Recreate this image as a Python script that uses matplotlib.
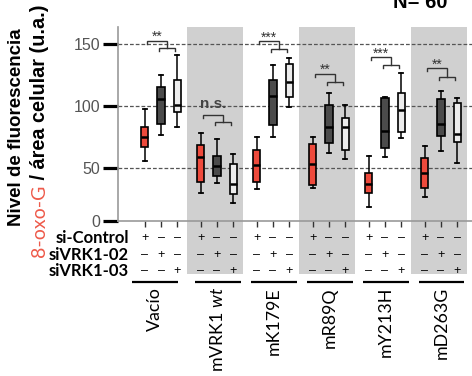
import numpy as np
import matplotlib
matplotlib.use("Agg")
import matplotlib.pyplot as plt
from matplotlib.transforms import blended_transform_factory
from matplotlib.patches import Rectangle

plt.rcParams["mathtext.fontset"] = "custom"
plt.rcParams["mathtext.it"] = "Lato:italic"
plt.rcParams["mathtext.rm"] = "Lato"

# ---- data -------------------------------------------------------------
groups = ["Vacío", "mVRK1 $\\mathit{wt}$", "mK179E", "mR89Q", "mY213H", "mD263G"]
conditions = ["si-Control", "siVRK1-02", "siVRK1-03"]

# five-number summaries per group: (whisker low, Q1, median, Q3, whisker high)
si_control = [
    (55.6, 67.1, 75.2, 82.7, 97.2),
    (26.7, 36.5, 59.1, 68.2, 78.4),
    (29.9, 37.1, 52.4, 64.5, 74.7),
    (30.8, 34.0, 53.0, 69.3, 75.2),
    (13.5, 26.1, 35.2, 45.5, 60.0),
    (22.3, 30.8, 45.0, 58.0, 67.9),
]
si_vrk1_02 = [
    (76.5, 85.4, 105.7, 114.9, 124.8),
    (35.5, 42.4, 51.3, 59.6, 73.1),
    (74.7, 84.6, 108.1, 120.7, 132.8),
    (61.8, 70.3, 83.2, 100.4, 110.5),
    (59.1, 65.8, 80.0, 106.0, 107.3),
    (63.7, 75.7, 85.1, 105.7, 112.1),
]
si_vrk1_03 = [
    (83.0, 95.0, 100.6, 120.7, 140.8),
    (16.7, 25.2, 34.9, 53.0, 61.3),
    (98.8, 107.3, 119.4, 133.4, 138.2),
    (57.0, 64.5, 82.7, 90.0, 100.6),
    (74.4, 79.2, 96.6, 110.5, 126.6),
    (53.8, 71.1, 77.1, 102.0, 106.5),
]
# significance brackets: (upper level, lower level, label)
sig_upper = [152.3, 92.6, 151.9, 125.6, 139.0, 130.2]
sig_lower = [146.7, 87.2, 145.4, 119.4, 132.8, 123.4]
sig_text = ["**", "n.s.", "***", "**", "***", "**"]
n_text = "N= 60"

colors = ["#ee4a3c", "#4b4b4b", "#ececec"]
band_color = "#d0d0d0"

W, H = 472, 376
def fx(px):
    return px / W
def fy(py):
    return 1 - py / H

# y axis compressed below 50
K = 53 / 62.2
def fwd(y):
    y = np.asarray(y, float)
    return np.where(y < 50, y * K, y - 50 + 50 * K)
def inv(f):
    f = np.asarray(f, float)
    return np.where(f < 50 * K, f / K, f + 50 - 50 * K)

fig = plt.figure(figsize=(W / 100, H / 100), dpi=100)
ax = fig.add_axes([fx(118), fy(221), 1 - fx(118), fy(27) - fy(221)])
ax.set_yscale("function", functions=(fwd, inv))
ax.set_ylim(0, 163.4)
ax.set_xlim(-0.768, 5.554)

offsets = [-0.29, 0.0, 0.29]
series = [si_control, si_vrk1_02, si_vrk1_03]

# shaded bands for alternating groups, running down through the table
bt = blended_transform_factory(ax.transData, fig.transFigure)
for k in range(len(groups)):
    if k % 2 == 1:
        ax.add_patch(Rectangle((k - 0.54, fy(274)), 1.01, fy(27) - fy(274),
                               transform=bt, facecolor=band_color, edgecolor="none",
                               clip_on=False, zorder=0))

for v in (50, 100, 150):
    ax.axhline(v, ls=(0, (3, 1.6)), color="#555555", lw=0.9, zorder=1.5)

positions_all = []
for s_idx, data in enumerate(series):
    stats = []
    pos = []
    for k, (lo, q1, med, q3, hi) in enumerate(data):
        stats.append(dict(whislo=lo, q1=q1, med=med, q3=q3, whishi=hi, fliers=[]))
        pos.append(k + offsets[s_idx])
    positions_all += pos
    bp = ax.bxp(stats, positions=pos, widths=0.13, patch_artist=True,
                showfliers=False, capwidths=0.07,
                boxprops=dict(edgecolor="black", linewidth=1.2),
                medianprops=dict(color="black", linewidth=1.8),
                whiskerprops=dict(color="black", linewidth=1.1),
                capprops=dict(color="black", linewidth=1.3), manage_ticks=False)
    for b in bp["boxes"]:
        b.set_facecolor(colors[s_idx])
        b.set_zorder(3)
    for key in ("whiskers", "caps", "medians"):
        for ln in bp[key]:
            ln.set_zorder(3.5 if key == "medians" else 2.8)

# significance brackets
tip = 2.3
for k in range(len(groups)):
    U, L = sig_upper[k], sig_lower[k]
    x3, x4 = k - 0.03, k + 0.25
    x1, x2 = k - 0.25, (x3 + x4) / 2
    ax.plot([x1, x1, x2, x2], [U - tip, U, U, L], color="#333333", lw=1.0,
            solid_joinstyle="miter", zorder=4)
    ax.plot([x3, x3, x4, x4], [L - tip, L, L, L - tip], color="#333333", lw=1.0,
            solid_joinstyle="miter", zorder=4)
    if sig_text[k] == "n.s.":
        ax.text((x1 + x2) / 2, U + 3, sig_text[k], ha="center", va="bottom",
                fontsize=11, fontweight="bold", color="#444444",
                family="Liberation Sans", zorder=5)
    else:
        ax.text((x1 + x2) / 2, U - 2.5, sig_text[k], ha="center", va="bottom",
                fontsize=10, color="#333333", family="Liberation Sans", zorder=5)

# axes styling
for side in ("top", "right"):
    ax.spines[side].set_visible(False)
for side in ("left", "bottom"):
    ax.spines[side].set_color("#999999")
    ax.spines[side].set_linewidth(1.2)
ax.set_yticks([0, 50, 100, 150])
ax.set_yticklabels(["0", "50", "100", "150"], family="Liberation Sans")
ax.tick_params(axis="y", length=11, width=2.3, color="black", labelsize=11.5,
               labelcolor="#555555", pad=2)
ax.set_xticks(sorted(positions_all))
ax.set_xticklabels([])
ax.tick_params(axis="x", length=4, width=1, color="#333333")
ax.yaxis.set_minor_locator(matplotlib.ticker.NullLocator())

# +/- table
row_y = [238, 255, 271]
for r, cond in enumerate(conditions):
    fig.text(fx(129), fy(row_y[r]), cond, ha="right", va="center",
             fontsize=12, fontweight="bold", family="Lato")
    for k in range(len(groups)):
        for s_idx in range(3):
            sym = "+" if s_idx == r else "–"
            ax.text(k + offsets[s_idx], fy(row_y[r]), sym, transform=bt,
                    ha="center", va="center", fontsize=9, color="black",
                    family="Liberation Sans", clip_on=False)

# group underlines and labels
for k, g in enumerate(groups):
    a, b = (k - 0.52, k + 0.3) if k == 0 else (k - 0.4, k + 0.42)
    ax.plot([a, b], [fy(282), fy(282)], transform=bt, color="black", lw=1.6,
            clip_on=False, solid_capstyle="butt")
    ax.text((a + b) / 2, fy(287), g, transform=bt, rotation=90, ha="center",
            va="top", fontsize=12.8, family="Lato", clip_on=False)

# y label, two lines
fig.text(fx(17), fy(127), "Nivel de fluorescencia", rotation=90, ha="center",
         va="center", fontsize=13.5, fontweight="bold", family="Liberation Sans")
t1 = fig.text(fx(40), fy(257), "8-oxo-G", rotation=90, ha="center", va="bottom",
              fontsize=14, color="#ee5a4a", family="Lato")
fig.canvas.draw()
ax.annotate(" / área celular (u.a.)", xy=(0.5, 1.0), xycoords=t1, rotation=90,
            ha="center", va="bottom", fontsize=14.3, fontweight="bold",
            family="Liberation Sans", annotation_clip=False)

fig.text(fx(393), fy(8), n_text, ha="left", va="baseline", fontsize=14.5,
         fontweight="bold", family="Liberation Sans")

fig.savefig("out.png", dpi=100)
